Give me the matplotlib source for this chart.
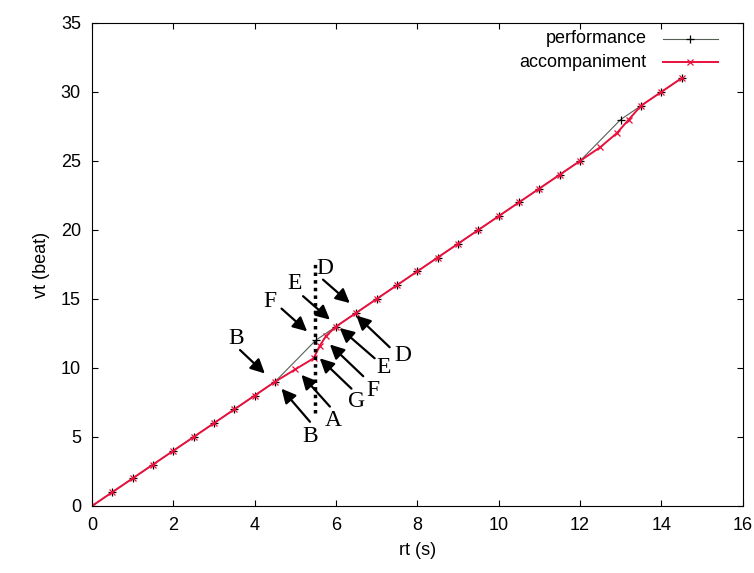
import matplotlib.pyplot as plt
import numpy as np

plt.rcParams['font.family'] = 'Liberation Sans'

# performance onsets (rt in s, vt in beats)
perf_rt = [0, 0.5, 1, 1.5, 2, 2.5, 3, 3.5, 4, 4.5, 5.5, 6, 6.5, 7, 7.5, 8, 8.5, 9,
           9.5, 10, 10.5, 11, 11.5, 12, 13, 13.5, 14, 14.5]
perf_vt = [0, 1, 2, 3, 4, 5, 6, 7, 8, 9, 12, 13, 14, 15, 16, 17, 18, 19,
           20, 21, 22, 23, 24, 25, 28, 29, 30, 31]

# accompaniment
acc_rt = [0, 0.5, 1, 1.5, 2, 2.5, 3, 3.5, 4, 4.5, 5.0, 5.45, 5.6, 5.75, 6, 6.5, 7, 7.5,
          8, 8.5, 9, 9.5, 10, 10.5, 11, 11.5, 12, 12.5, 12.9, 13.2, 13.5, 14, 14.5]
acc_vt = [0, 1, 2, 3, 4, 5, 6, 7, 8, 9, 9.9, 10.7, 11.6, 12.3, 13, 14, 15, 16,
          17, 18, 19, 20, 21, 22, 23, 24, 25, 26, 27.0, 28.0, 29, 30, 31]

# annotation arrows: letter, letter position, arrow tail, arrow head
ann_labels = ['B', 'F', 'E', 'D', 'D', 'E', 'F', 'G', 'A', 'B']
ann_text_pos = [(3.55, 12.15), (4.37, 14.8), (4.99, 16.1), (5.72, 17.2), (7.65, 10.9),
                (7.16, 10.0), (6.91, 8.4), (6.5, 7.55), (5.93, 6.2), (5.36, 5.0)]
ann_tail = [(3.64, 11.3), (4.66, 14.3), (5.19, 15.2), (5.68, 16.4), (7.32, 11.5),
            (6.95, 10.7), (6.67, 9.4), (6.38, 8.5), (5.85, 7.2), (5.36, 6.1)]
ann_head = [(4.25, 9.6), (5.29, 12.65), (5.85, 13.5), (6.34, 14.7), (6.5, 13.8),
            (6.09, 12.9), (5.85, 11.7), (5.6, 10.7), (5.15, 9.5), (4.66, 8.5)]

# dotted marker line
dot_x = 5.48
dot_y = (6.7, 17.7)

fig, ax = plt.subplots(figsize=(7.54, 5.73), dpi=100)
fig.subplots_adjust(left=0.122, right=0.985, bottom=0.117, top=0.96)

ax.plot(perf_rt, perf_vt, color='#556055', lw=0.8, marker='+', ms=6, mec='black', mew=0.9)
ax.plot(acc_rt, acc_vt, color='#e8103c', lw=1.4, marker='x', ms=4.5, mec='#e8103c', mew=0.9)

ax.plot([dot_x, dot_x], dot_y, color='black', ls=(0, (1, 1.2)), lw=2.5)

for lab, tp, tail, head in zip(ann_labels, ann_text_pos, ann_tail, ann_head):
    ax.annotate('', xy=head, xytext=tail,
                arrowprops=dict(arrowstyle='-|>,head_length=0.5,head_width=0.25',
                                color='black', lw=1.6, mutation_scale=17,
                                shrinkA=0, shrinkB=0))
    ax.text(tp[0], tp[1], lab, family='Liberation Serif', fontsize=17,
            ha='center', va='center')

# gnuplot-like legend: text right aligned, sample to the right
ax.text(0.852, 0.967, 'performance', transform=ax.transAxes, ha='right', va='center', fontsize=13)
ax.text(0.852, 0.919, 'accompaniment', transform=ax.transAxes, ha='right', va='center', fontsize=13)
ax.plot([0.877, 0.962], [0.967, 0.967], transform=ax.transAxes, color='#556055', lw=0.8)
ax.plot([0.9195], [0.967], transform=ax.transAxes, marker='+', ms=6, color='black', mew=0.9)
ax.plot([0.877, 0.962], [0.919, 0.919], transform=ax.transAxes, color='#e8103c', lw=1.4)
ax.plot([0.9195], [0.919], transform=ax.transAxes, marker='x', ms=4.5, color='#e8103c', mew=0.9)

ax.set_xlim(0, 16)
ax.set_ylim(0, 35)
ax.set_xticks(np.arange(0, 17, 2))
ax.set_yticks(np.arange(0, 36, 5))
ax.tick_params(direction='in', top=True, right=True, labelsize=13, length=4, pad=8)
ax.set_xlabel('rt (s)', fontsize=13, labelpad=6)
ax.set_ylabel('vt (beat)', fontsize=13, labelpad=8)

plt.savefig('out.png', dpi=100)
